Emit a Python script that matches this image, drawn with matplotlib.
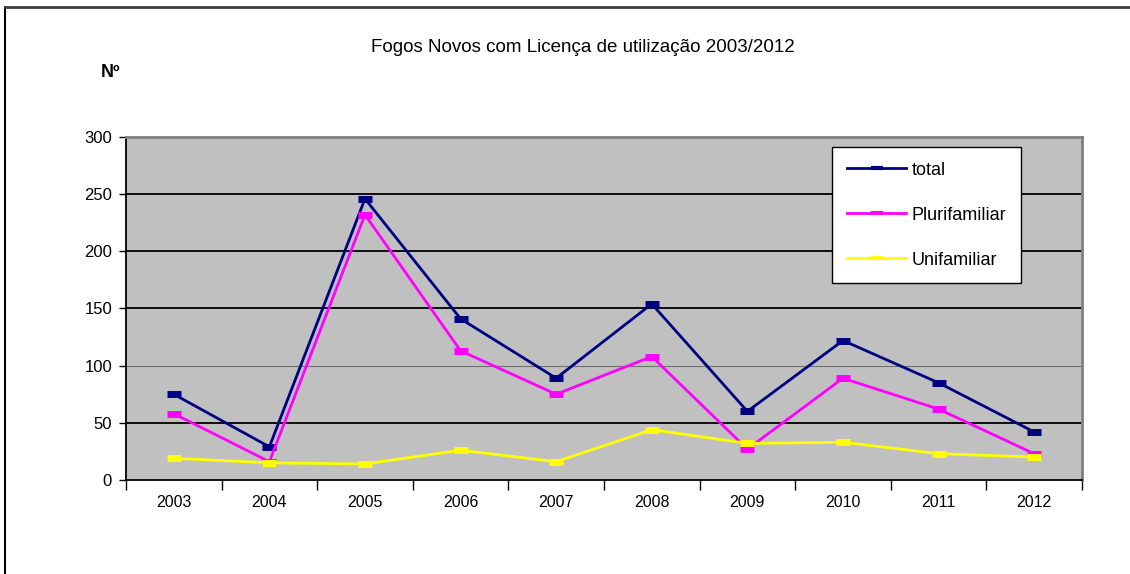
import matplotlib
matplotlib.use('Agg')
from matplotlib import pyplot as plt
from matplotlib.lines import Line2D
import numpy as np

plt.rcParams['font.family'] = ['Liberation Sans', 'DejaVu Sans']

years = ['2003', '2004', '2005', '2006', '2007', '2008', '2009', '2010', '2011', '2012']
total = [75, 29, 246, 141, 89, 154, 60, 122, 85, 42]
plurifamiliar = [58, 16, 232, 113, 75, 108, 27, 89, 62, 23]
unifamiliar = [19, 15, 14, 26, 16, 44, 32, 33, 23, 20]

series = [
    ('total', total, '#000080'),
    ('Plurifamiliar', plurifamiliar, '#FF00FF'),
    ('Unifamiliar', unifamiliar, '#FFFF00'),
]

fig = plt.figure(figsize=(11.30, 5.74), dpi=100)
ax = fig.add_axes([0.1115, 0.1638, 0.846, 0.5975])
ax.set_facecolor('#C0C0C0')

x = np.arange(len(years))
for name, vals, col in series:
    ax.plot(x, vals, color=col, lw=2, marker='_', ms=10, mew=5, label=name, zorder=3)

ax.set_xlim(-0.5, len(years) - 0.5)
ax.set_ylim(0, 300)
ax.set_yticks([0, 50, 100, 150, 200, 250, 300])
ax.set_yticklabels(['0', '50', '100', '150', '200', '250', '300'], fontsize=12)
ax.set_xticks(x)
ax.set_xticklabels(years, fontsize=11.5)
ax.set_xticks(np.arange(-0.5, len(years)), minor=True)
ax.tick_params(axis='x', which='major', length=0, pad=11)
ax.tick_params(axis='x', which='minor', length=7, width=1, color='black')
ax.tick_params(axis='y', length=5, width=1, pad=5)

for v in [50, 100, 150, 200, 250]:
    if v == 100:
        ax.axhline(v, color='#707070', lw=0.8, zorder=1)
    else:
        ax.axhline(v, color='black', lw=1.3, zorder=1)

for s in ['top', 'right']:
    ax.spines[s].set_color('#808080')
    ax.spines[s].set_linewidth(2)
for s in ['left', 'bottom']:
    ax.spines[s].set_color('black')
    ax.spines[s].set_linewidth(1.3)

handles = [Line2D([], [], color=c, lw=2, marker='_', ms=8, mew=3) for _, _, c in series]
leg = ax.legend(handles, [n for n, _, _ in series], loc='upper left',
                bbox_to_anchor=(0.739, 0.97), fontsize=13, frameon=True, fancybox=False,
                edgecolor='black', framealpha=1, borderpad=0.8, labelspacing=1.55,
                handlelength=3.3, handletextpad=0.3, borderaxespad=0)
leg.get_frame().set_linewidth(1.0)

fig.text(0.516, 0.917, 'Fogos Novos com Licença de utilização 2003/2012', ha='center',
         va='center', fontsize=13.5)
fig.text(0.098, 0.874, 'Nº', ha='center', va='center', fontsize=13, fontweight='bold')

# outer frame (left and top edges)
fig.add_artist(Line2D([0.004, 0.004], [0.0, 0.988], transform=fig.transFigure, color='black', lw=1.5))
fig.add_artist(Line2D([0.004, 1.0], [0.988, 0.988], transform=fig.transFigure, color='#404040', lw=2))

fig.savefig('out.png', dpi=100)
